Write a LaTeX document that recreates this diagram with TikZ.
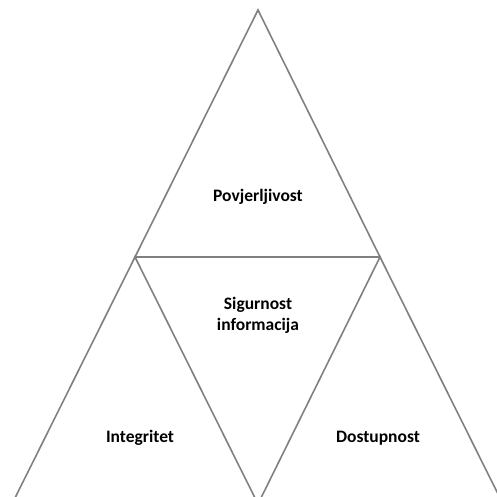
\documentclass[tikz,border=0pt]{standalone}
\usepackage{fontspec}
\setmainfont{Carlito}
\begin{document}
\begin{tikzpicture}[x=1pt,y=-1pt,
  tri/.style={draw=black!50, line width=1.6pt, line join=miter},
  lbl/.style={font=\bfseries\fontsize{17.5}{21}\selectfont, align=center, text=black}]
\useasboundingbox (0,0) rectangle (497,497);
\begin{scope}
\clip (0,0) rectangle (497,497);
\coordinate (A) at (258,10);
\coordinate (L) at (135,257);
\coordinate (R) at (380,257);
\coordinate (BL) at (12,504);
\coordinate (BM) at (258,504);
\coordinate (BR) at (503,504);
\draw[tri] (A) -- (L) -- (R) -- cycle;
\draw[tri] (L) -- (BL) -- (BM) -- cycle;
\draw[tri] (R) -- (BM) -- (BR) -- cycle;
\end{scope}
\node[lbl] (pov) at (258,197) {Povjerljivost};
\node[lbl] (sig) at (258,315) {Sigurnost\\informacija};
\node[lbl] (int) at (140,438) {Integritet};
\node[lbl] (dos) at (378,438) {Dostupnost};
\end{tikzpicture}
\end{document}
